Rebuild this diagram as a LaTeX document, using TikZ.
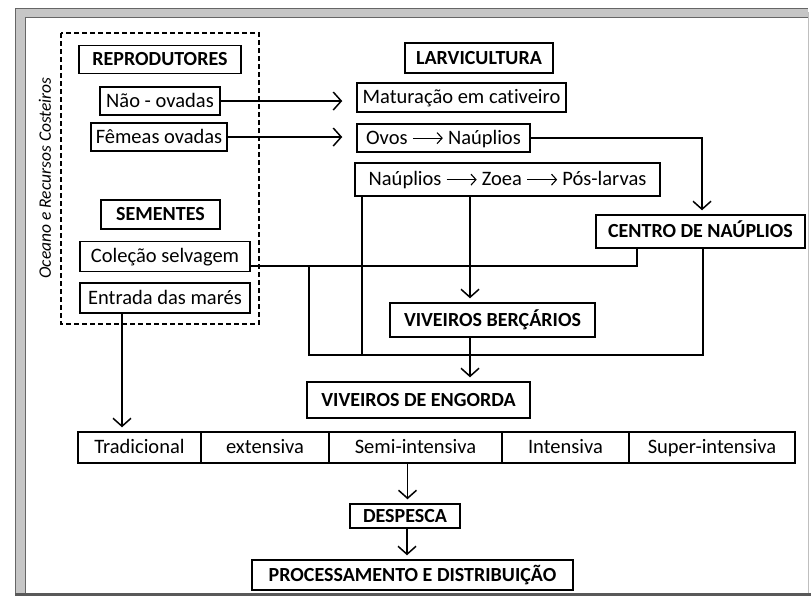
\documentclass[tikz,border=0pt]{standalone}
\usepackage{fontspec}
\setmainfont{Carlito}[Ligatures=NoCommon]
\usetikzlibrary{arrows.meta}
\newcommand{\seta}{\tikz[baseline=-0.6ex]\draw[line width=1.1pt,-{Straight Barb[length=5pt,width=11pt]}] (0pt,0pt) -- (30pt,0pt);}

\begin{document}
\begin{tikzpicture}[x=1pt,y=-1pt,
    box/.style={draw, line width=1.5pt, minimum height=28pt, inner sep=2pt, text height=15.5pt, text depth=3.5pt, font=\fontsize{20.5}{24}\selectfont},
    cab/.style={box, font=\fontsize{20}{24}\selectfont\bfseries},
    cel/.style={box, minimum height=31pt},
    arr/.style={line width=1.5pt, -{Straight Barb[length=8pt,width=18pt]}, shorten >=4pt}]
    \useasboundingbox (0,0) rectangle (811,598);

    % scanned frame
    \draw[line width=9pt, gray!45] (20,595) -- (20,12) -- (808,12);
    \draw[line width=1pt, black!60] (15,595) -- (15,8) -- (808,8);
    \draw[line width=1pt, black!60] (25,595) -- (25,17) -- (808,17);
    \draw[line width=1pt, gray!50] (808,12) -- (808,594);
    \draw[line width=3pt, black!65] (15,594) -- (811,594);

    % left block
    \draw[line width=1.2pt, dash pattern=on 5pt off 3pt] (61,33) rectangle (259,324);
    \node[rotate=90, font=\fontsize{17.5}{20}\selectfont\itshape] (oce) at (45,178) {Oceano e Recursos Costeiros};
    \node[cab, minimum width=162] (rep) at (160,59.5) {REPRODUTORES};
    \node[box, minimum width=120] (nao) at (160,101) {Não - ovadas};
    \node[box, minimum width=136] (fem) at (159,137) {Fêmeas ovadas};
    \node[cab, minimum width=119, minimum height=29] (sem) at (160.5,214.5) {SEMENTES};
    \node[box, minimum width=170, minimum height=30] (col) at (165,256.5) {Coleção selvagem};
    \node[box, minimum width=170, minimum height=30] (ent) at (165,298) {Entrada das marés};

    % larvicultura
    \node[cab, minimum width=148, minimum height=30] (lar) at (479,58) {LARVICULTURA};
    \node[box, minimum width=209, minimum height=29] (mat) at (461.5,97.5) {Maturação em cativeiro};
    \node[box, minimum width=173] (ovos) at (443.5,138) {Ovos \seta\ Naúplios};
    \node[box, minimum width=305, minimum height=33] (nzp) at (507.5,179.5) {Naúplios \seta\ Zoea \seta\ Pós-larvas};
    \node[cab, minimum width=209, minimum height=33] (cen) at (700.5,231.5) {CENTRO DE NAÚPLIOS};
    \node[cab, minimum width=205, minimum height=34] (ber) at (492.5,320) {VIVEIROS BERÇÁRIOS};
    \node[cab, minimum width=223, minimum height=36] (eng) at (418.5,400) {VIVEIROS DE ENGORDA};

    % sistemas de cultivo
    \node[cel, minimum width=123] (tra) at (139.5,447.5) {Tradicional};
    \node[cel, minimum width=128] (ext) at (265,447.5) {extensiva};
    \node[cel, minimum width=173] (semi) at (415.5,447.5) {Semi-intensiva};
    \node[cel, minimum width=127] (int) at (565.5,447.5) {Intensiva};
    \node[cel, minimum width=166] (sup) at (712,447.5) {Super-intensiva};

    \node[cab, minimum width=110, minimum height=24] (desp) at (405,516) {DESPESCA};
    \node[cab, minimum width=321, minimum height=30] (proc) at (412.5,575) {PROCESSAMENTO E DISTRIBUIÇÃO};

    % junctions
    \coordinate (jA) at (309,266);
    \coordinate (jB) at (309,355);
    \coordinate (jC) at (637,266);
    \coordinate (jD) at (703,355);
    \coordinate (jE) at (362,355);
    \coordinate (jF) at (470,355);

    % connectors
    \draw[arr, shorten >=14pt] (nao.east) -- (nao.east -| mat.west);
    \draw[arr, shorten >=14pt] (fem.east) -- (fem.east -| ovos.west);
    \draw[arr] (ovos.east) -| ([xshift=1.5pt]cen.north);
    \draw[line width=1.5pt] (col.east |- jC) -- (jC) -- (jC |- cen.south);
    \draw[line width=1.5pt] (jA) -- (jB) -- (jD) -- (jD |- cen.south);
    \draw[line width=1.5pt] (jE |- nzp.south) -- (jE);
    \draw[arr] (jF |- nzp.south) -- (jF |- ber.north);
    \draw[arr] ([xshift=-22.5pt]ber.south) -- ([xshift=-22.5pt]ber.south |- eng.north);
    \draw[arr] ([xshift=-43pt]ent.south) -- ([xshift=-43pt]ent.south |- tra.north);
    \draw[arr] ([xshift=-8pt]semi.south) -- ([xshift=-8pt]semi.south |- desp.north);
    \draw[arr] ([xshift=2pt]desp.south) -- ([xshift=2pt]desp.south |- proc.north);
\end{tikzpicture}
\end{document}
